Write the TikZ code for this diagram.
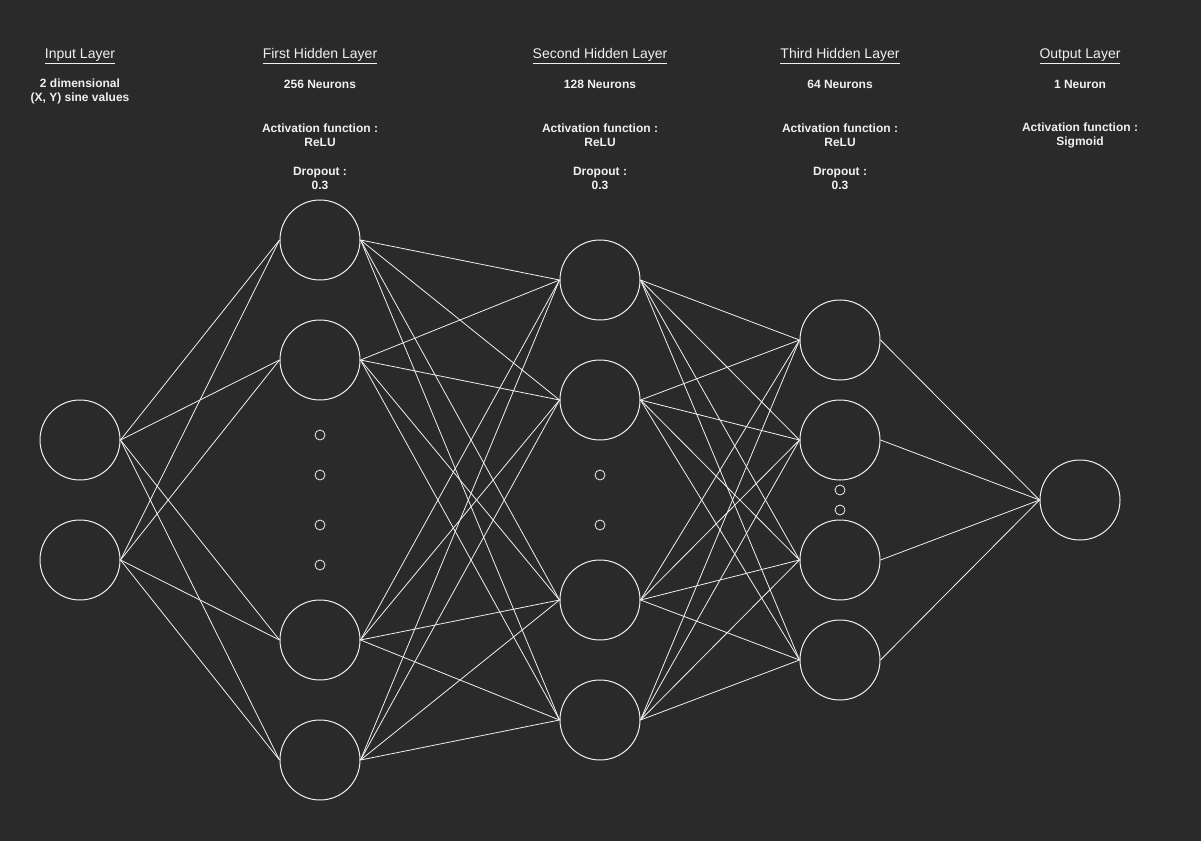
\documentclass[tikz,border=0pt]{standalone}
\usepackage{fontspec}
\setmainfont{Liberation Sans}
\definecolor{bg}{HTML}{2A2A2A}
\definecolor{fg}{HTML}{F0F0F0}
\begin{document}
\begin{tikzpicture}[x=0.75pt,y=-0.75pt,
  neuron/.style={circle,draw=fg,line width=0.75pt,minimum size=60pt,inner sep=0pt},
  dotn/.style={circle,draw=fg,line width=0.6pt,minimum size=7.5pt,inner sep=0pt},
  link/.style={draw=fg,line width=0.6pt},
  ttl/.style={text=fg,font=\fontsize{10.5}{12}\selectfont},
  info/.style={text=fg,font=\fontsize{9}{10.5}\selectfont\bfseries,align=center}]
\fill[bg] (0,0) rectangle (1201,841);
\useasboundingbox (0,0) rectangle (1201,841);
% titles
\node[ttl] (t0) at (80,56) {\underline{Input Layer}};
\node[ttl] (t1) at (320,56) {\underline{First Hidden Layer}};
\node[ttl] (t2) at (600,56) {\underline{Second Hidden Layer}};
\node[ttl] (t3) at (840,56) {\underline{Third Hidden Layer}};
\node[ttl] (t4) at (1080,56) {\underline{Output Layer}};
% info
\node[info] (i0) at (80,91) {2 dimensional\\(X, Y) sine values};
\node[info] (n1) at (320,84) {256 Neurons};
\node[info] (a1) at (320,135) {Activation function :\\ReLU};
\node[info] (d1) at (320,178) {Dropout :\\0.3};
\node[info] (n2) at (600,84) {128 Neurons};
\node[info] (a2) at (600,135) {Activation function :\\ReLU};
\node[info] (d2) at (600,178) {Dropout :\\0.3};
\node[info] (n3) at (840,84) {64 Neurons};
\node[info] (a3) at (840,135) {Activation function :\\ReLU};
\node[info] (d3) at (840,178) {Dropout :\\0.3};
\node[info] (n4) at (1080,84) {1 Neuron};
\node[info] (a4) at (1080,135) {Activation function :\\Sigmoid};
% neurons
\node[neuron] (x1) at (80,440) {};
\node[neuron] (x2) at (80,560) {};
\node[neuron] (h11) at (320,240) {};
\node[neuron] (h12) at (320,360) {};
\node[neuron] (h13) at (320,640) {};
\node[neuron] (h14) at (320,760) {};
\node[neuron] (h21) at (600,280) {};
\node[neuron] (h22) at (600,400) {};
\node[neuron] (h23) at (600,600) {};
\node[neuron] (h24) at (600,720) {};
\node[neuron] (h31) at (840,340) {};
\node[neuron] (h32) at (840,440) {};
\node[neuron] (h33) at (840,560) {};
\node[neuron] (h34) at (840,660) {};
\node[neuron] (o1) at (1080,500) {};
% dots
\node[dotn] (p1) at (320,435) {};
\node[dotn] (p2) at (320,475) {};
\node[dotn] (p3) at (320,525) {};
\node[dotn] (p4) at (320,565) {};
\node[dotn] (q1) at (600,475) {};
\node[dotn] (q2) at (600,525) {};
\node[dotn] (r1) at (840,490) {};
\node[dotn] (r2) at (840,510) {};
% links
\foreach \i in {1,2} \foreach \j in {1,...,4} \draw[link] (x\i.east) -- (h1\j.west);
\foreach \i in {1,...,4} \foreach \j in {1,...,4} \draw[link] (h1\i.east) -- (h2\j.west);
\foreach \i in {1,...,4} \foreach \j in {1,...,4} \draw[link] (h2\i.east) -- (h3\j.west);
\foreach \i in {1,...,4} \draw[link] (h3\i.east) -- (o1.west);
\end{tikzpicture}
\end{document}
